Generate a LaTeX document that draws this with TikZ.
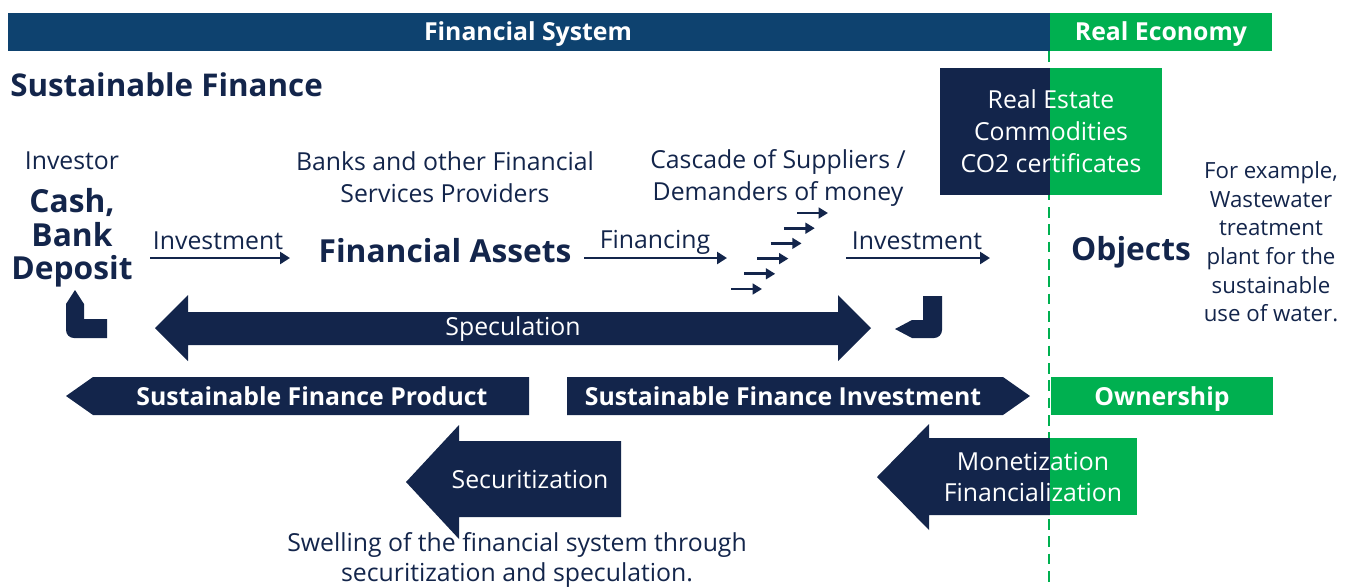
\documentclass[tikz,border=0pt]{standalone}
\usepackage{fontspec}
\setmainfont{Open Sans}
\usetikzlibrary{arrows.meta}
\definecolor{navy}{HTML}{13254B}
\definecolor{barblue}{HTML}{0E426F}
\definecolor{ecogreen}{HTML}{00B050}
\begin{document}
\begin{tikzpicture}[x=0.75pt,y=-0.75pt,
	txt/.style={text=navy,font=\fontsize{18.6}{24}\selectfont,align=center,inner sep=0pt},
	big/.style={text=navy,font=\fontsize{23.8}{25}\selectfont\bfseries,align=center,inner sep=0pt},
	wtxt/.style={text=white,font=\fontsize{18.6}{24}\selectfont,align=center,inner sep=0pt},
	wbold/.style={text=white,font=\fontsize{18.6}{24}\selectfont\bfseries,inner sep=0pt,text height=13pt,text depth=4pt},
	flow/.style={navy,line width=2.2pt,-{Triangle[length=7.5pt,width=9pt]}}]
	\useasboundingbox (0,0) rectangle (1350,587);
	% header bars and border between the two worlds
	\fill[barblue] (8,13) rectangle (1050,51);
	\fill[ecogreen] (1050,13) rectangle (1272,51);
	\node[wbold] (finsys) at (528,34) {Financial System};
	\node[wbold] (realeco) at (1161,34) {Real Economy};
	\draw[ecogreen,line width=1.6pt,dash pattern=on 8pt off 5pt] (1049,51) -- (1049,587);
	\node[big,anchor=west,font=\fontsize{23.5}{26}\selectfont\bfseries] (sustfin) at (10,85) {Sustainable Finance};
	% assets box
	\fill[navy] (940,68) rectangle (1050,195);
	\fill[ecogreen] (1050,68) rectangle (1162,195);
	\node[wtxt] (realestate) at (1051,131) {Real Estate\\Commodities\\CO2 certificates};
	% top row
	\node[txt] (investor) at (72,161) {Investor};
	\node[big] (cash) at (72,238) {Cash,\\Bank\\Deposit};
	\node[txt] (banks) at (445,177) {Banks and other Financial\\Services Providers};
	\node[txt] (cascade) at (778,178) {Cascade of Suppliers /\\Demanders of money};
	\node[txt,font=\fontsize{16.7}{21.5}\selectfont] (example) at (1271,242) {For example,\\Wastewater\\treatment\\plant for the\\sustainable\\use of water.};
	\node[txt] (inv1) at (218,241) {Investment};
	\node[big] (assets) at (445,251) {Financial Assets};
	\node[txt] (fin) at (655,242) {Financing};
	\node[txt] (inv2) at (917,241) {Investment};
	\node[big] (objects) at (1131,252) {Objects};
	\coordinate (i1s) at (150,258);
	\coordinate (i1e) at (290,258);
	\coordinate (fs) at (584,258);
	\coordinate (fe) at (727,258);
	\coordinate (i2s) at (846,258);
	\coordinate (i2e) at (990,258);
	\draw[flow] (i1s) -- (i1e);
	\draw[flow] (fs) -- (fe);
	\draw[flow] (i2s) -- (i2e);
	\foreach \i in {0,...,5}
		\draw[flow,line width=2pt,-{Triangle[length=7pt,width=8pt]}] ({731+13.2*\i},{289-15.2*\i}) -- ++(31,0);
	% elbow arrows
	\fill[navy] (75,290) -- (84,304) -- (84,319) -- (107,319) -- (107,338) -- (74,338)
		arc[start angle=90,end angle=180,radius=8] -- (66,304) -- cycle;
	\fill[navy] (923,296) -- (942,296) -- (942,330) arc[start angle=0,end angle=90,radius=8]
		-- (912,338) -- (895,329) -- (912,320) -- (923,320) -- cycle;
	% speculation
	\fill[navy] (155,328) -- (188,295) -- (188,312) -- (838,312) -- (838,295) -- (871,328)
		-- (838,361) -- (838,345) -- (188,345) -- (188,361) -- cycle;
	\node[wtxt] (spec) at (513,329) {Speculation};
	% product / investment row
	\fill[navy] (66,396) -- (93,377) -- (529,377) -- (529,415) -- (93,415) -- cycle;
	\fill[navy] (567,377) -- (1003,377) -- (1030,396) -- (1003,415) -- (567,415) -- cycle;
	\fill[ecogreen] (1051,377) rectangle (1273,415);
	\node[wbold] (product) at (312,399) {Sustainable Finance Product};
	\node[wbold] (sfinv) at (783,399) {Sustainable Finance Investment};
	\node[wbold] (owner) at (1162,399) {Ownership};
	% securitization and monetization
	\fill[navy] (406,482) -- (459,425) -- (459,441) -- (621,441) -- (621,517) -- (459,517) -- (459,539) -- cycle;
	\node[wtxt] (secur) at (530,480) {Securitization};
	\fill[navy] (877,477) -- (929,424) -- (929,438) -- (1050,438) -- (1050,515) -- (929,515) -- (929,530) -- cycle;
	\fill[ecogreen] (1050,438) rectangle (1137,515);
	\node[wtxt,font=\fontsize{18.6}{23.5}\selectfont] (monet) at (1033,477) {Monetization\\Financialization};
	\node[txt,font=\fontsize{18.6}{23}\selectfont] (swell) at (517,560) {Swelling of the financial system through\\securitization and speculation.};
\end{tikzpicture}
\end{document}
